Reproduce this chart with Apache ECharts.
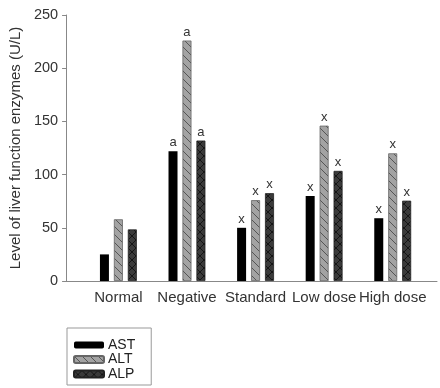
<!DOCTYPE html>
<html>
<head>
<meta charset="utf-8">
<script src="https://cdn.jsdelivr.net/npm/echarts@6/dist/echarts.min.js"></script>
<style>
  html, body { margin: 0; padding: 0; background: #fff; }
  #main { width: 440px; height: 388px; }
</style>
</head>
<body>
<div id="main"></div>
<script>
// data
var groups = ["Normal", "Negative", "Standard", "Low dose", "High dose"];
var ast = [25, 122, 50, 80, 59];
var alt = [58, 226, 76, 146, 120];
var alp = [48.5, 132, 82.5, 103.5, 75.5];
var astMarks = ["", "a", "x", "x", "x"];
var altMarks = ["", "a", "x", "x", "x"];
var alpMarks = ["", "a", "x", "x", "x"];
var yTicks = [0, 50, 100, 150, 200, 250];

// hatch fills
function hatch(bg, fg, cross) {
  var c = document.createElement("canvas");
  c.width = 8;
  c.height = 8;
  var ctx = c.getContext("2d");
  ctx.fillStyle = bg;
  ctx.fillRect(0, 0, 8, 8);
  ctx.strokeStyle = fg;
  ctx.lineWidth = 1;
  ctx.beginPath();
  ctx.moveTo(-1, -1); ctx.lineTo(9, 9);
  if (cross) {
    ctx.moveTo(9, -1); ctx.lineTo(-1, 9);
  }
  ctx.stroke();
  return { image: c, repeat: "repeat" };
}

var font = "Liberation Sans, Arial, sans-serif";
var myChart = echarts.init(document.getElementById("main"));

function barLabel(marks) {
  return {
    show: true,
    position: "top",
    distance: 2,
    color: "#333",
    fontSize: 13,
    fontFamily: font,
    formatter: function (p) { return marks[p.dataIndex]; }
  };
}

var option = {
  animation: false,
  grid: [
    { left: 84, right: 13, top: 15, bottom: 107 },
    { left: 66, right: 3, top: 15, bottom: 107 }
  ],
  legend: {
    orient: "vertical",
    left: 67,
    top: 328,
    height: 46,
    itemWidth: 30,
    itemHeight: 7,
    itemGap: 0.5,
    padding: [10, 16, 4, 6],
    borderColor: "#999",
    borderWidth: 1,
    textStyle: { color: "#222", fontSize: 14, fontFamily: font, padding: [0, 0, 0, -1] },
    data: ["AST", "ALT", "ALP"]
  },
  xAxis: [
    {
      type: "category",
      gridIndex: 0,
      data: groups,
      axisLine: { show: false },
      axisTick: { show: false },
      axisLabel: { interval: 0, color: "#333", fontSize: 15, fontFamily: font, margin: 9 }
    },
    {
      type: "value",
      gridIndex: 1,
      axisLine: { show: true, lineStyle: { color: "#888" } },
      axisTick: { show: false },
      axisLabel: { show: false },
      splitLine: { show: false }
    }
  ],
  yAxis: [
    {
      type: "value",
      gridIndex: 0,
      min: yTicks[0],
      max: yTicks[yTicks.length - 1],
      interval: 50,
      offset: 18,
      name: "Level of liver function enzymes (U/L)",
      nameLocation: "middle",
      nameGap: 41,
      nameTextStyle: { color: "#333", fontSize: 15, fontFamily: font },
      axisLine: { show: true, lineStyle: { color: "#888" } },
      axisTick: { show: true, length: 4, lineStyle: { color: "#888" } },
      axisLabel: { color: "#333", fontSize: 14.5, fontFamily: font, margin: 8 },
      splitLine: { show: false }
    },
    { type: "value", gridIndex: 1, show: false }
  ],
  series: [
    {
      name: "AST",
      type: "bar",
      data: ast,
      barWidth: 9,
      barGap: "55%",
      itemStyle: { color: "#000" },
      label: barLabel(astMarks)
    },
    {
      name: "ALT",
      type: "bar",
      data: alt,
      barWidth: 9,
      barGap: "55%",
      itemStyle: { color: hatch("#a3a3a3", "#555", false), borderColor: "#666", borderWidth: 0.8 },
      label: barLabel(altMarks)
    },
    {
      name: "ALP",
      type: "bar",
      data: alp,
      barWidth: 9,
      barGap: "55%",
      itemStyle: { color: hatch("#3a3a3a", "#151515", true), borderColor: "#222", borderWidth: 0.8 },
      label: barLabel(alpMarks)
    }
  ]
};

myChart.setOption(option);
</script>
</body>
</html>
